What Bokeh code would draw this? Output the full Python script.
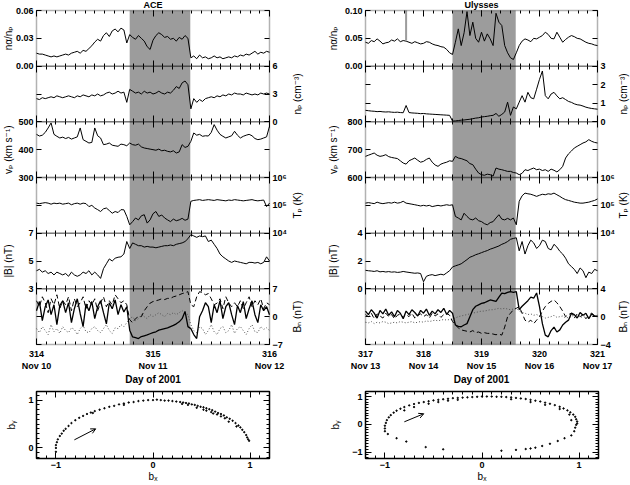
import math
import numpy as np
from bokeh.plotting import figure
from bokeh.layouts import column, row
from bokeh.models import (Range1d, LinearAxis, LogAxis, LogScale, FixedTicker, Label,
                          Arrow, OpenHead, BoxAnnotation)
from bokeh.embed import file_html
from bokeh.resources import INLINE

FONT = "Liberation Sans, DejaVu Sans, sans-serif"
GRAY = "#9c9c9c"

# ---------------- ACE (left column), Day of 2001, step 0.025 day ----------------
T_L_START, T_L_STEP = 314.0, 0.025
SHADE_L = [314.80, 315.32]
ALPHA_L = [0.014,0.013,0.013,0.012,0.011,0.010,0.011,0.010,0.011,0.012,
           0.013,0.012,0.014,0.015,0.016,0.014,0.017,0.016,0.019,0.022,
           0.026,0.029,0.027,0.033,0.036,0.032,0.038,0.040,0.037,0.041,
           0.039,0.025,0.034,0.031,0.029,0.033,0.030,0.027,0.021,0.018,
           0.028,0.033,0.036,0.034,0.031,0.032,0.029,0.030,0.027,0.031,
           0.029,0.033,0.030,0.009,0.011,0.008,0.012,0.009,0.010,0.008,
           0.009,0.011,0.009,0.010,0.008,0.009,0.010,0.009,0.011,0.010,
           0.012,0.011,0.013,0.012,0.014,0.016,0.013,0.015,0.014,0.016,0.015]
NP_L = [2.5,2.4,2.6,2.5,2.6,2.7,2.6,2.8,2.7,2.6,
        2.7,2.8,2.7,2.6,2.8,2.7,2.9,2.8,2.7,2.9,
        2.8,3.0,2.8,2.9,3.1,3.2,3.0,3.1,3.3,3.1,
        3.2,2.1,3.5,3.3,3.1,3.2,3.0,3.3,3.1,3.2,
        3.0,3.1,3.3,3.1,3.0,3.2,3.1,3.4,3.8,3.6,
        4.2,4.4,4.0,1.4,2.5,2.1,2.4,2.2,2.5,2.6,
        2.7,2.6,2.8,2.7,2.9,2.8,3.0,2.9,3.1,3.0,
        3.0,2.9,3.1,3.0,2.9,3.0,2.9,3.1,3.0,3.1,3.0]
VP_L = [455,449,452,462,478,496,455,448,442,445,
        440,444,438,442,446,478,436,430,424,426,
        478,450,442,418,420,424,416,414,412,420,
        418,414,424,418,416,420,410,406,404,402,
        400,398,402,396,398,394,392,396,388,392,
        418,408,412,430,460,452,455,448,450,449,
        462,490,470,455,448,442,446,450,466,452,
        442,448,452,455,450,440,436,438,442,446,484]
TP_L = [1.2e5,1.15e5,1.2e5,1.25e5,1.2e5,1.1e5,1.2e5,1.15e5,1.2e5,1.1e5,
        1.15e5,1.2e5,1.05e5,1.15e5,1.2e5,1.1e5,1.2e5,1.15e5,9.0e4,1.0e5,
        8.0e4,7.0e4,6.0e4,7.5e4,8.0e4,6.5e4,5.2e4,6.0e4,5.5e4,7.0e4,
        6.9e4,4.0e4,2.0e4,2.6e4,3.5e4,3.0e4,4.2e4,4.6e4,2.3e4,3.0e4,
        5.0e4,6.0e4,4.0e4,4.5e4,3.5e4,3.0e4,2.6e4,3.2e4,2.8e4,3.0e4,
        3.4e4,2.9e4,3.2e4,1.4e5,1.5e5,1.55e5,1.6e5,1.5e5,1.55e5,1.6e5,
        1.55e5,1.5e5,1.6e5,1.55e5,1.5e5,1.45e5,1.55e5,1.5e5,1.6e5,1.55e5,
        1.5e5,1.45e5,1.5e5,1.55e5,1.6e5,1.5e5,1.45e5,1.5e5,1.55e5,9.0e4,1.2e5]
B_L = [4.3,4.4,4.2,4.3,4.1,4.2,4.0,4.2,4.1,4.0,
       4.1,3.9,4.2,4.0,3.9,4.0,4.2,4.1,4.3,4.0,
       4.2,4.0,3.75,4.45,4.8,5.15,5.0,5.2,5.27,5.3,
       5.5,6.4,5.9,6.3,6.2,6.1,6.1,6.0,6.05,6.0,
       6.0,5.95,6.0,6.05,6.1,6.1,6.15,6.1,6.2,6.25,
       6.3,6.4,6.6,6.9,6.8,6.7,6.8,6.75,6.8,6.4,
       6.5,6.2,5.9,5.5,5.3,5.15,5.0,4.9,5.0,4.95,
       4.9,4.85,4.8,4.9,4.9,4.85,4.9,4.8,4.9,5.3,5.0]
BN1_L = [1.5,3.8,-1.0,2.5,4.2,0.5,3.0,-2.0,2.8,4.0,
         1.0,3.5,-1.5,2.0,4.5,0.8,-2.5,3.2,1.5,3.8,
         -0.5,2.5,4.0,1.0,-1.8,3.5,2.0,4.2,0.5,3.0,
         1.2,2.5,-3.4,-5.1,-5.3,-5.5,-5.0,-4.8,-4.6,-4.3,
         -4.0,-3.8,-3.4,-3.2,-3.0,-2.8,-2.5,-2.2,-1.8,-1.3,
         -0.5,1.3,-2.5,-3.0,-4.5,-5.5,0.0,1.5,3.5,2.5,
         -1.5,3.0,1.0,4.0,-0.5,2.5,3.5,0.5,-2.0,2.8,
         1.0,3.8,-0.5,2.0,4.0,0.5,-1.5,3.0,1.5,2.5,0.5]
BN2_L = [4.0,2.5,5.0,3.5,1.0,4.5,3.0,5.5,2.0,4.0,
         3.0,5.0,1.5,4.5,2.5,3.5,5.0,2.0,4.0,3.0,
         4.5,1.5,3.5,5.0,2.5,4.0,3.0,5.5,4.5,3.5,
         4.0,3.0,-0.8,-1.5,-0.5,0.0,0.0,1.5,2.5,3.4,
         3.8,4.0,4.2,4.5,4.3,4.6,4.6,5.0,5.2,5.5,
         5.8,6.0,6.3,3.0,2.5,5.0,6.3,6.0,5.5,5.8,
         4.5,3.0,3.4,4.5,2.0,5.0,3.5,2.5,3.5,2.5,
         4.0,2.0,3.5,5.0,2.5,4.0,3.0,4.5,2.0,3.5,3.0]
BN3_L = [-3.0,-4.0,-2.5,-3.5,-4.5,-2.0,-3.8,-3.0,-4.2,-2.5,
         -3.5,-4.0,-2.8,-3.2,-4.5,-3.0,-2.2,-3.8,-4.0,-3.0,
         -2.5,-3.5,-4.0,-3.0,-2.0,-3.5,-4.2,-2.8,-3.0,-2.0,
         -2.5,-1.5,-0.5,0.0,-1.0,-0.5,0.5,0.0,-0.5,0.5,
         0.0,0.5,1.0,0.5,0.0,0.8,0.5,1.0,0.5,1.0,
         1.5,1.0,0.5,-2.0,-3.5,-4.0,-2.5,-3.0,-4.5,-3.5,
         -2.0,-3.8,-4.5,-3.0,-2.5,-4.0,-3.5,-2.0,-4.2,-3.0,
         -2.5,-3.5,-4.5,-3.0,-2.0,-3.8,-4.0,-2.5,-3.2,-2.8,-3.5]

# ---------------- Ulysses (right column), step 0.05 day ----------------
T_R_START, T_R_STEP = 317.0, 0.05
SHADE_R = [318.50, 319.59]
SPIKE_R_T = [317.70]
SPIKE_R_LO = [0.046]
SPIKE_R_HI = [0.100]
ALPHA_R = [0.043,0.041,0.046,0.044,0.049,0.045,0.040,0.042,0.043,0.047,
           0.045,0.049,0.044,0.046,0.045,0.043,0.041,0.044,0.042,0.040,
           0.041,0.044,0.043,0.040,0.038,0.037,0.035,0.034,0.030,0.024,
           0.021,0.043,0.067,0.037,0.060,0.098,0.055,0.079,0.050,0.043,
           0.061,0.045,0.058,0.049,0.037,0.095,0.079,0.073,0.037,0.024,
           0.015,0.012,0.024,0.037,0.045,0.049,0.047,0.044,0.050,0.049,
           0.052,0.055,0.061,0.057,0.050,0.049,0.061,0.052,0.043,0.048,
           0.052,0.055,0.053,0.050,0.049,0.046,0.043,0.041,0.040,0.038,0.037]
NP_R = [0.62,0.60,0.58,0.57,0.55,0.56,0.54,0.53,0.54,0.52,
        0.51,0.52,0.50,0.49,0.88,0.50,0.48,0.47,0.46,0.44,
        0.45,0.43,0.42,0.41,0.40,0.39,0.38,0.37,0.36,0.35,
        0.04,0.05,0.07,0.09,0.10,0.12,0.14,0.17,0.20,0.22,
        0.26,0.28,0.30,0.33,0.35,0.45,0.30,0.40,0.53,1.06,
        0.35,0.80,0.70,1.06,1.41,1.06,1.59,1.30,1.24,1.76,
        2.29,2.74,1.41,1.24,1.50,1.59,1.40,1.24,1.30,1.20,
        1.10,1.05,0.97,0.92,0.90,0.85,0.79,0.75,0.72,0.70,0.68]
VP_R = [676,680,684,688,680,676,678,682,675,672,
        670,668,660,652,648,660,665,670,662,655,
        658,665,670,655,645,640,648,652,655,660,
        658,676,670,668,664,660,650,646,630,616,
        610,608,612,610,605,634,630,628,625,622,
        622,618,616,610,615,628,625,630,634,628,
        630,625,628,622,630,626,620,628,640,670,
        685,695,706,712,718,724,728,736,730,726,724]
TP_R = [1.2e5,1.25e5,1.2e5,1.15e5,1.3e5,1.2e5,1.15e5,1.2e5,1.25e5,1.2e5,
        1.3e5,1.2e5,1.25e5,1.4e5,1.2e5,1.15e5,1.1e5,1.05e5,1.0e5,9.5e4,
        1.0e5,9.5e4,1.0e5,9.0e4,9.5e4,1.0e5,9.5e4,1.0e5,1.05e5,1.0e5,
        1.05e5,4.0e4,3.5e4,3.0e4,5.2e4,4.0e4,3.2e4,3.0e4,3.5e4,2.8e4,
        2.6e4,2.2e4,2.0e4,2.4e4,2.6e4,3.5e4,4.6e4,3.2e4,3.0e4,3.4e4,
        3.0e4,3.5e4,2.0e4,1.4e5,2.2e5,2.75e5,2.6e5,2.5e5,2.3e5,2.1e5,
        2.3e5,2.5e5,2.4e5,2.6e5,2.5e5,2.75e5,2.4e5,2.1e5,1.8e5,1.6e5,
        1.5e5,1.4e5,1.3e5,1.25e5,1.2e5,1.2e5,1.25e5,1.3e5,1.4e5,1.5e5,1.7e5]
B_R = [1.33,1.30,1.28,1.25,1.30,1.22,1.25,1.21,1.24,1.20,
       1.22,1.18,1.20,1.25,1.21,1.18,1.15,1.12,1.14,1.10,
       0.51,0.90,0.98,1.02,0.95,1.00,1.05,1.00,1.15,1.30,
       1.57,1.65,1.72,1.80,1.95,2.10,2.27,2.35,2.45,2.52,
       2.60,2.68,2.75,2.85,2.92,3.00,3.08,3.20,3.28,3.40,
       3.56,3.62,3.67,2.73,3.40,2.50,3.10,3.50,3.30,2.90,
       3.10,3.50,3.40,2.90,2.80,3.20,3.00,2.70,2.50,2.20,
       1.80,1.60,1.40,1.10,1.50,1.30,0.80,1.20,1.10,1.40,1.30]
BN1_R = [0.8,0.3,1.0,0.5,-0.2,0.9,0.4,1.1,0.2,0.7,
         0.0,0.9,0.5,-0.3,0.8,0.3,1.0,0.6,0.1,0.9,
         0.5,1.1,0.2,0.8,0.4,1.0,0.6,1.2,0.3,0.9,
         0.5,-1.2,-1.4,-1.45,-1.2,-1.0,0.0,1.0,1.5,1.7,
         1.9,2.0,2.2,2.4,2.3,2.2,2.8,3.4,3.3,3.5,
         3.6,3.5,3.6,1.0,1.5,1.9,2.3,2.8,2.65,3.4,
         1.45,-1.0,-2.65,-2.9,-2.0,-1.5,-2.2,-1.9,-1.2,-0.8,
         -0.5,0.5,0.3,-0.2,0.6,0.2,0.5,-0.3,0.4,0.1,0.0]
BN2_R = [0.3,0.0,0.5,-0.3,0.4,0.1,-0.2,0.5,0.0,0.3,
         -0.3,0.2,0.4,-0.1,0.3,0.0,0.5,-0.2,0.2,0.4,
         0.0,0.3,-0.2,0.5,0.1,0.4,-0.1,0.3,0.5,0.2,
         -0.7,-1.2,-1.6,-1.9,-2.0,-2.1,-2.2,-2.0,-2.3,-2.2,
         -2.4,-2.3,-2.4,-2.4,-2.5,-2.6,-2.5,-2.65,-1.5,0.0,
         0.5,1.0,1.2,1.45,0.5,-0.5,-0.8,-0.5,-1.0,-0.5,
         0.0,0.8,1.45,1.9,2.2,2.4,2.0,1.45,0.8,0.0,
         0.3,0.5,-0.2,0.4,0.0,0.3,-0.3,0.2,0.5,0.1,0.2]
BN3_R = [-0.8,-0.9,-0.7,-1.0,-0.8,-0.9,-0.7,-0.8,-1.0,-0.9,
         -0.8,-0.9,-0.7,-0.8,-0.9,-0.8,-0.7,-0.9,-0.8,-0.7,
         -0.8,-0.6,-0.7,-0.6,-0.5,-0.6,-0.5,-0.4,-0.5,-0.4,
         -0.3,-0.2,0.0,0.1,0.2,0.3,0.4,0.5,0.6,0.7,
         0.8,0.8,0.9,1.0,1.0,1.1,1.2,1.1,1.2,1.1,
         1.0,1.1,1.2,0.8,0.6,0.5,0.3,0.4,0.2,0.3,
         0.1,0.0,-0.2,-0.1,0.0,0.2,-0.1,0.0,0.1,-0.2,
         -0.1,0.0,0.2,0.1,-0.1,0.0,0.2,0.1,0.0,0.1,0.0]

DAYS_L = {314: "314\nNov 10", 315: "315\nNov 11", 316: "316\nNov 12"}
DAYS_R = {317: "317\nNov 13", 318: "318\nNov 14", 319: "319\nNov 15",
          320: "320\nNov 16", 321: "321\nNov 17"}

# ---------------- hodograms (b_x, b_y) ----------------
HODO_L = [(-1.00,-0.08),(-1.00,0.00),(-1.00,0.06),(-0.99,0.12),(-0.98,0.18),(-0.96,0.25),
          (-0.94,0.30),(-0.92,0.36),(-0.90,0.40),(-0.87,0.46),(-0.84,0.52),(-0.80,0.58),
          (-0.76,0.63),(-0.72,0.67),(-0.68,0.71),(-0.64,0.74),(-0.60,0.77),(-0.55,0.80),
          (-0.50,0.83),(-0.45,0.86),(-0.40,0.88),(-0.35,0.91),(-0.30,0.93),(-0.25,0.95),
          (-0.20,0.96),(-0.15,0.98),(-0.10,0.99),(-0.05,1.00),(0.00,1.00),(0.04,1.01),
          (0.08,1.00),(0.12,0.99),(0.16,0.99),(0.20,0.98),(0.24,0.97),(0.28,0.96),
          (0.31,0.95),(0.34,0.94),(0.37,0.93),(0.40,0.91),(0.43,0.90),(0.46,0.88),
          (0.49,0.86),(0.52,0.85),(0.55,0.83),(0.58,0.81),(0.61,0.79),(0.64,0.76),
          (0.67,0.73),(0.70,0.71),(0.73,0.68),(0.76,0.64),(0.79,0.61),(0.82,0.57),
          (0.85,0.52),(0.88,0.47),(0.90,0.43),(0.92,0.38),(0.94,0.33),(0.96,0.27),
          (0.97,0.22),(0.98,0.18),(0.99,0.15),(0.45,0.84),(0.55,0.78),(0.62,0.72),
          (0.70,0.66),(0.78,0.55),(0.30,0.92),(0.52,0.80),(0.66,0.70),(-0.62,0.73),
          (-0.30,0.90),(0.36,0.90),(0.60,0.75),(0.74,0.62),(0.86,0.45)]
HODO_R = [(-1.00,-0.25),(-1.00,-0.15),(-1.00,-0.05),(-0.99,0.05),(-0.98,0.15),(-0.96,0.25),
          (-0.94,0.33),(-0.91,0.42),(-0.88,0.49),(-0.84,0.56),(-0.80,0.62),(-0.75,0.68),
          (-0.70,0.73),(-0.65,0.77),(-0.60,0.80),(-0.55,0.83),(-0.50,0.86),(-0.45,0.88),
          (-0.40,0.90),(-0.35,0.92),(-0.30,0.94),(-0.25,0.95),(-0.20,0.96),(-0.15,0.97),
          (-0.10,0.98),(-0.05,0.99),(0.00,1.00),(0.05,1.00),(0.10,1.00),(0.15,0.99),
          (0.20,0.99),(0.25,0.98),(0.30,0.97),(0.35,0.95),(0.40,0.93),(0.45,0.91),
          (0.50,0.88),(0.55,0.85),(0.60,0.82),(0.65,0.78),(0.70,0.74),(0.75,0.69),
          (0.80,0.63),(0.84,0.57),(0.88,0.50),(0.91,0.43),(0.94,0.35),(0.96,0.27),
          (0.97,0.18),(0.98,0.10),(0.98,0.03),(0.97,-0.02),
          (-0.70,0.62),(-0.55,0.74),(-0.45,0.80),(-0.35,0.85),(-0.25,0.88),(-0.80,0.50),
          (0.30,0.90),(0.50,0.80),(0.65,0.70),(0.80,0.55),(0.90,0.35),(0.92,0.15),
          (-0.97,-0.35),(-0.88,-0.50),(-0.78,-0.62),(-0.58,-0.82),(-0.40,-0.90),(0.20,-0.95),
          (0.35,-0.92),(0.45,-0.89),(0.50,-0.87),(0.55,-0.84),(0.62,-0.78),(0.70,-0.70),
          (0.78,-0.60),(0.85,-0.50),(0.92,-0.40),(0.95,-0.25),(0.96,-0.12)]
ARROW_L = [-0.81, 0.17, -0.59, 0.40]
ARROW_R = [-0.80, 0.09, -0.60, 0.38]

for arr in [ALPHA_L, NP_L, VP_L, TP_L, B_L, BN1_L, BN2_L, BN3_L,
            ALPHA_R, NP_R, VP_R, TP_R, B_R, BN1_R, BN2_R, BN3_R]:
    assert len(arr) == 81, len(arr)

T_L = np.round(T_L_START + T_L_STEP * np.arange(len(ALPHA_L)), 4)
T_R = np.round(T_R_START + T_R_STEP * np.arange(len(ALPHA_R)), 4)

# column canvas geometry (pixels): panels occupy rows 10..344 of a 386 px canvas
COL_W, COL_H = 315, 386
PAN_TOP, PAN_BOT = 10, 344


def style_axis(ax, labels=True, tick_in=5, minor_in=0):
    ax.axis_line_color = None
    ax.major_tick_line_color = "black"
    ax.minor_tick_line_color = "black"
    ax.major_tick_in = tick_in
    ax.major_tick_out = 0
    ax.minor_tick_in = minor_in
    ax.minor_tick_out = 0
    ax.major_label_text_font = FONT
    ax.major_label_text_font_style = "bold"
    ax.major_label_text_font_size = "9px"
    ax.major_label_text_color = "black" if labels else None
    ax.major_label_standoff = 3
    ax.axis_label_text_font = FONT
    ax.axis_label_text_font_size = "10px"
    ax.axis_label_text_font_style = "bold"
    ax.axis_label_text_color = "black"
    ax.axis_label_standoff = 1


def add_text(p, x, y, text, rng="default", x_offset=0, y_offset=0, align="center",
             baseline="middle", size="9px", style="bold", angle=0.0):
    p.add_layout(Label(x=x, y=y, y_range_name=rng, x_offset=x_offset, y_offset=y_offset,
                       text=text, text_align=align, text_baseline=baseline,
                       text_font=FONT, text_font_size=size, text_font_style=style,
                       text_color="black", angle=angle))


def build_column(t, panels, x0, x1, px0, px1, majors, minors, day_labels, title, shade,
                 lab_off_l, lab_off_r, spike=None):
    # x range extended so that [x0, x1] lands on pixels [px0, px1] of the full canvas
    ppx = (px1 - px0) / (x1 - x0)
    xs, xe = x0 - px0 / ppx, x1 + (COL_W - px1) / ppx
    ppy = (PAN_BOT - PAN_TOP) / 6.0
    ys, ye = -(COL_H - PAN_BOT) / ppy, 6 + PAN_TOP / ppy
    p = figure(width=COL_W, height=COL_H, x_range=Range1d(xs, xe), y_range=Range1d(ys, ye),
               x_axis_location=None, y_axis_location=None, toolbar_location=None,
               output_backend="svg", min_border=0)
    p.outline_line_color = None
    p.background_fill_color = "white"
    p.border_fill_color = "white"
    p.grid.visible = False

    p.add_layout(BoxAnnotation(left=shade[0], right=shade[1], bottom=0, top=6,
                               fill_color=GRAY, fill_alpha=1.0, line_color=None,
                               level="underlay"))

    ranges, scales = {}, {}
    for k, pc in enumerate(panels):
        base = 5 - k
        if pc.get("log"):
            llo, lhi = math.log10(pc["lo"]), math.log10(pc["hi"])
            span = lhi - llo
            ranges[pc["name"]] = Range1d(10 ** (llo + (ys - base) * span),
                                         10 ** (llo + (ye - base) * span))
            scales[pc["name"]] = LogScale()
        else:
            lo, hi = pc["lo"], pc["hi"]
            span = hi - lo
            ranges[pc["name"]] = Range1d(lo + (ys - base) * span, lo + (ye - base) * span)
    p.extra_y_ranges = ranges
    p.extra_y_scales = scales

    for k, pc in enumerate(panels):
        name = pc["name"]
        for vals, dash, col, lw in pc["series"]:
            p.line(t, vals, y_range_name=name, line_color=col, line_width=lw,
                   line_dash=dash)
        Ax = LogAxis if pc.get("log") else LinearAxis
        for side in ("left", "right"):
            labelled = (side == pc["side"])
            ax = Ax(y_range_name=name, bounds=(pc["lo"], pc["hi"]),
                    ticker=FixedTicker(ticks=pc["ticks"], minor_ticks=[]),
                    fixed_location=(x0 if side == "left" else x1))
            style_axis(ax, labels=labelled)
            if labelled:
                ax.major_label_overrides = dict(zip(pc["ticks"], pc["tick_labels"]))
            p.add_layout(ax, side)
        if pc.get("log"):
            ymid = math.sqrt(pc["lo"] * pc["hi"])
        else:
            ymid = (pc["lo"] + pc["hi"]) / 2
        if pc["side"] == "left":
            add_text(p, x0, ymid, pc["label"], rng=name, x_offset=-lab_off_l,
                     baseline="bottom", size="10px", style="normal", angle=math.pi / 2)
        else:
            add_text(p, x1, ymid, pc["label"], rng=name, x_offset=lab_off_r,
                     baseline="top", size="10px", style="normal", angle=math.pi / 2)
        # panel frame
        p.add_layout(BoxAnnotation(left=x0, right=x1, bottom=5 - k, top=6 - k,
                                   fill_color=None, line_color="black", line_width=1.5,
                                   level="overlay"))

    if spike is not None:
        p.segment(x0=spike[0], y0=spike[1], x1=spike[0], y1=spike[2],
                  y_range_name=panels[0]["name"], line_color=GRAY, line_width=2)

    # inward x ticks on each panel edge
    for j in range(1, 7):
        ax = LinearAxis(ticker=FixedTicker(ticks=majors, minor_ticks=minors),
                        fixed_location=j, bounds=(x0, x1))
        style_axis(ax, labels=False, tick_in=6, minor_in=3)
        p.add_layout(ax, "above")
    for j in range(1, 6):
        ax = LinearAxis(ticker=FixedTicker(ticks=majors, minor_ticks=minors),
                        fixed_location=j, bounds=(x0, x1))
        style_axis(ax, labels=False, tick_in=6, minor_in=3)
        p.add_layout(ax, "below")
    xb = LinearAxis(ticker=FixedTicker(ticks=majors, minor_ticks=minors),
                    fixed_location=0, bounds=(x0, x1), axis_label="Day of 2001")
    style_axis(xb, labels=True, tick_in=6, minor_in=3)
    xb.major_label_overrides = day_labels
    xb.major_label_standoff = 4
    xb.axis_label_standoff = 0
    p.add_layout(xb, "below")

    add_text(p, (x0 + x1) / 2, 6, title, y_offset=1, baseline="bottom", size="9px")
    return p


def build_hodo(pairs, arrow, yticks, ylo, yhi, bl, br):
    bx = [q[0] for q in pairs]
    by = [q[1] for q in pairs]
    h = figure(width=315, height=99, x_range=Range1d(-1.2, 1.2), y_range=Range1d(ylo, yhi),
               x_axis_location=None, y_axis_location=None, toolbar_location=None,
               output_backend="svg", min_border_left=bl, min_border_right=br,
               min_border_top=5, min_border_bottom=27)
    h.outline_line_color = "black"
    h.outline_line_width = 1.5
    h.background_fill_color = "white"
    h.border_fill_color = "white"
    h.grid.visible = False
    h.scatter(bx, by, marker="circle", size=1.4, color="black")
    h.add_layout(Arrow(end=OpenHead(size=5, line_width=1, line_color="black"),
                       x_start=arrow[0], y_start=arrow[1], x_end=arrow[2], y_end=arrow[3],
                       line_color="black", line_width=1))
    xminor = [round(-1.2 + 0.1 * i, 2) for i in range(25)]
    yminor = [round(-1.2 + 0.1 * i, 2) for i in range(25)]
    xl = LinearAxis(ticker=FixedTicker(ticks=[-1, 0, 1], minor_ticks=xminor), axis_label="bₓ")
    style_axis(xl, labels=True, tick_in=6, minor_in=3)
    xl.axis_label_standoff = 0
    xl.axis_label_text_font_style = "normal"
    h.add_layout(xl, "below")
    xt = LinearAxis(ticker=FixedTicker(ticks=[-1, 0, 1], minor_ticks=xminor), fixed_location=yhi)
    style_axis(xt, labels=False, tick_in=6, minor_in=3)
    h.add_layout(xt, "above")
    yl = LinearAxis(ticker=FixedTicker(ticks=yticks, minor_ticks=yminor), axis_label="bᵧ")
    style_axis(yl, labels=True, tick_in=6, minor_in=3)
    yl.axis_label_standoff = 8
    yl.axis_label_text_font_style = "normal"
    h.add_layout(yl, "left")
    yr = LinearAxis(ticker=FixedTicker(ticks=yticks, minor_ticks=yminor), fixed_location=1.2)
    style_axis(yr, labels=False, tick_in=6, minor_in=3)
    h.add_layout(yr, "right")
    return h


def panels_for(alpha, alpha_hi, alpha_ticks, np_, np_hi, np_ticks, vp, vp_lo, vp_hi, vp_ticks,
               tp, b, b_lo, b_hi, b_ticks, bn1, bn2, bn3, bn_lim):
    return [
        dict(name="alpha", lo=0, hi=alpha_hi, ticks=alpha_ticks, side="left", label="nα/nₚ",
             tick_labels=["%.2f" % v for v in alpha_ticks],
             series=[(alpha, "solid", "black", 1)]),
        dict(name="np", lo=0, hi=np_hi, ticks=np_ticks, side="right", label="nₚ (cm⁻³)",
             tick_labels=[str(v) for v in np_ticks],
             series=[(np_, "solid", "black", 1)]),
        dict(name="vp", lo=vp_lo, hi=vp_hi, ticks=vp_ticks, side="left", label="vₚ (km s⁻¹)",
             tick_labels=[str(v) for v in vp_ticks],
             series=[(vp, "solid", "black", 1)]),
        dict(name="tp", log=True, lo=1e4, hi=1e6, ticks=[1e4, 1e5, 1e6], side="right",
             label="Tₚ (K)", tick_labels=["10⁴", "10⁵", "10⁶"],
             series=[(tp, "solid", "black", 1)]),
        dict(name="b", lo=b_lo, hi=b_hi, ticks=b_ticks, side="left", label="|B| (nT)",
             tick_labels=[str(v) for v in b_ticks],
             series=[(b, "solid", "black", 1)]),
        dict(name="bn", lo=-bn_lim, hi=bn_lim, ticks=[-bn_lim, 0, bn_lim], side="right",
             label="Bₙ (nT)", tick_labels=["−%d" % bn_lim, "0", "%d" % bn_lim],
             series=[(bn3, "1 2", "#555555", 1), (bn2, "5 3", "black", 1),
                     (bn1, "solid", "black", 1.3)]),
    ]


PANELS_L = panels_for(ALPHA_L, 0.06, [0.0, 0.03, 0.06], NP_L, 6, [0, 3, 6],
                      VP_L, 300, 500, [300, 400, 500], TP_L, B_L, 3, 7, [3, 5, 7],
                      BN1_L, BN2_L, BN3_L, 7)
PANELS_R = panels_for(ALPHA_R, 0.10, [0.0, 0.05, 0.10], NP_R, 3, [0, 1, 2, 3],
                      VP_R, 600, 800, [600, 700, 800], TP_R, B_R, 0, 4, [0, 2, 4],
                      BN1_R, BN2_R, BN3_R, 4)

minor_L = [round(314 + i / 12, 4) for i in range(25)]
minor_R = [round(317 + i / 6, 4) for i in range(25)]

colL = build_column(T_L, PANELS_L, 314, 316, 36, 269, [314, 315, 316], minor_L, DAYS_L,
                    "ACE", SHADE_L, 23, 22)
colR = build_column(T_R, PANELS_R, 317, 321, 50, 282, [317, 318, 319, 320, 321], minor_R,
                    DAYS_R, "Ulysses", SHADE_R, 27, 20,
                    spike=(SPIKE_R_T, SPIKE_R_LO, SPIKE_R_HI))
hodoL = build_hodo(HODO_L, ARROW_L, [0, 1], -0.22, 1.18, 36, 46)
hodoR = build_hodo(HODO_R, ARROW_R, [-1, 0, 1], -1.23, 1.18, 50, 32)

layout = column(row(colL, colR), row(hodoL, hodoR))
open("out.html", "w").write(file_html(layout, INLINE))
